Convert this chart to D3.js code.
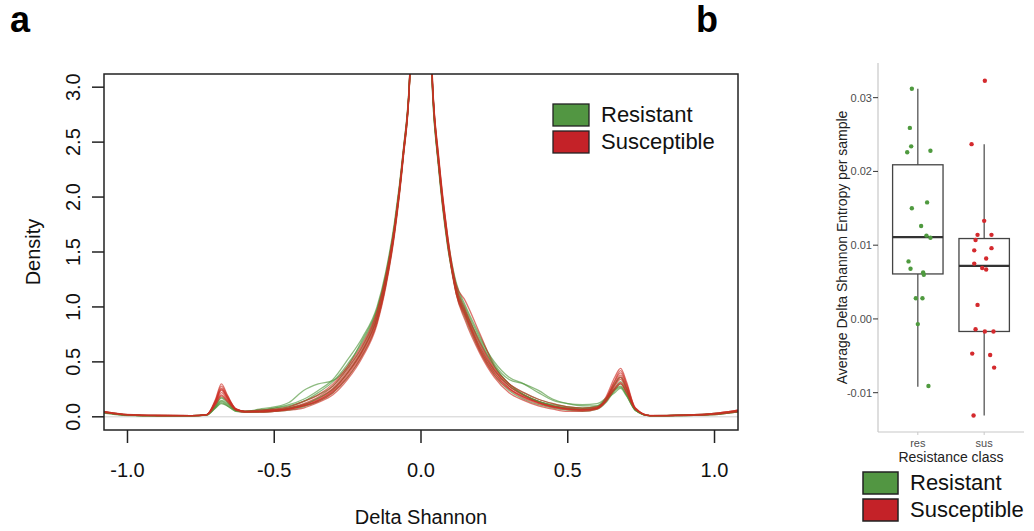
<!DOCTYPE html>
<html>
<head>
<meta charset="utf-8">
<script src="https://cdn.jsdelivr.net/npm/d3@7"></script>
<style>
  body { margin: 0; background: #fff; }
  text { font-family: "Liberation Sans", Arial, sans-serif; }
</style>
</head>
<body>
<div id="fig"></div>
<script>
// panel a: density of delta Shannon, one curve per sample
var deltaGrid = [-1.08, -1.0, -0.9, -0.78, -0.73,  -0.70, -0.68, -0.66, -0.63, -0.6,  -0.55, -0.5, -0.45, -0.4, -0.35,
                 -0.3, -0.25, -0.2, -0.15, -0.12,  -0.09, -0.06, -0.04, 0, 0.04,  0.06, 0.09, 0.12, 0.15, 0.2,
                 0.25, 0.3, 0.35, 0.4, 0.45,  0.5, 0.55, 0.6, 0.63, 0.66,  0.68, 0.70, 0.73, 0.78, 0.9,  1.0, 1.08]

var resistantCurves = [
  [0.035,0.015,0.01,0.01,0.02, 0.09,0.15,0.12,0.06,0.05, 0.07,0.09,0.13,0.24,0.3, 0.33,0.46,0.7,0.98,1.3, 1.75,2.4,3.0,7,2.9, 2.3,1.62,1.2,1.0,0.72, 0.5,0.36,0.3,0.22,0.15, 0.12,0.11,0.12,0.17,0.25, 0.28,0.2,0.06,0.01,0.015, 0.025,0.05],
  [0.04,0.015,0.01,0.01,0.015, 0.08,0.13,0.1,0.05,0.04, 0.04,0.05,0.06,0.09,0.14, 0.22,0.36,0.56,0.86,1.2, 1.68,2.38,3.0,7.5,3.0, 2.35,1.62,1.12,0.9,0.6, 0.38,0.24,0.16,0.11,0.08, 0.06,0.05,0.07,0.13,0.24, 0.3,0.22,0.06,0.01,0.012, 0.02,0.045],
  [0.045,0.02,0.012,0.01,0.02, 0.1,0.17,0.13,0.06,0.05, 0.06,0.07,0.09,0.14,0.22, 0.32,0.48,0.68,0.97,1.28, 1.74,2.42,3.02,7,2.98, 2.32,1.6,1.18,0.98,0.68, 0.46,0.3,0.22,0.16,0.12, 0.09,0.08,0.09,0.16,0.3, 0.36,0.26,0.07,0.01,0.015, 0.03,0.055],
  [0.04,0.015,0.01,0.01,0.02, 0.09,0.14,0.11,0.06,0.05, 0.06,0.08,0.1,0.14,0.2, 0.28,0.44,0.64,0.94,1.26, 1.72,2.4,3.0,7,2.96, 2.3,1.64,1.22,1.02,0.74, 0.48,0.34,0.3,0.24,0.16, 0.12,0.1,0.1,0.15,0.24, 0.27,0.2,0.06,0.01,0.015, 0.025,0.05],
  [0.035,0.012,0.008,0.008,0.015, 0.1,0.18,0.14,0.06,0.045, 0.05,0.06,0.08,0.11,0.17, 0.25,0.4,0.6,0.9,1.22, 1.7,2.38,2.98,7,2.95, 2.28,1.58,1.14,0.94,0.64, 0.42,0.28,0.2,0.14,0.1, 0.08,0.07,0.08,0.14,0.26, 0.32,0.24,0.07,0.01,0.012, 0.02,0.045],
  [0.04,0.016,0.01,0.01,0.018, 0.08,0.12,0.1,0.05,0.05, 0.06,0.08,0.11,0.16,0.24, 0.34,0.52,0.72,1.0,1.32, 1.78,2.44,3.04,7,2.92, 2.26,1.56,1.16,0.96,0.7, 0.46,0.3,0.2,0.14,0.11, 0.09,0.08,0.1,0.16,0.22, 0.26,0.19,0.06,0.01,0.014, 0.024,0.05]
]

var susceptibleCurves = [
  [0.045,0.02,0.012,0.01,0.02, 0.16,0.3,0.2,0.07,0.045, 0.045,0.05,0.07,0.1,0.15, 0.24,0.4,0.6,0.9,1.24, 1.7,2.4,3.0,7,2.96, 2.32,1.62,1.14,0.94,0.62, 0.4,0.26,0.18,0.13,0.09, 0.07,0.06,0.08,0.18,0.36, 0.44,0.32,0.08,0.01,0.015, 0.03,0.06],
  [0.04,0.018,0.012,0.01,0.02, 0.14,0.26,0.18,0.07,0.05, 0.05,0.06,0.08,0.11,0.17, 0.26,0.42,0.62,0.92,1.25, 1.72,2.4,3.0,7,2.95, 2.3,1.6,1.16,0.96,0.66, 0.43,0.28,0.2,0.14,0.1, 0.08,0.07,0.08,0.16,0.3, 0.38,0.27,0.07,0.01,0.015, 0.025,0.05],
  [0.04,0.015,0.01,0.01,0.018, 0.12,0.22,0.16,0.06,0.04, 0.04,0.05,0.06,0.08,0.13, 0.2,0.34,0.54,0.84,1.18, 1.66,2.36,2.98,7.5,3.02, 2.38,1.66,1.12,0.88,0.58, 0.36,0.22,0.15,0.1,0.07, 0.05,0.05,0.07,0.14,0.28, 0.34,0.25,0.07,0.01,0.012, 0.02,0.045],
  [0.05,0.02,0.012,0.01,0.02, 0.15,0.28,0.19,0.07,0.05, 0.05,0.06,0.08,0.12,0.18, 0.28,0.44,0.64,0.94,1.28, 1.74,2.42,3.02,7,2.98, 2.34,1.66,1.2,1.06,0.76, 0.46,0.3,0.2,0.14,0.1, 0.08,0.07,0.09,0.17,0.32, 0.4,0.29,0.08,0.01,0.015, 0.03,0.06],
  [0.045,0.018,0.011,0.01,0.018, 0.13,0.24,0.17,0.06,0.045, 0.05,0.055,0.07,0.1,0.15, 0.23,0.38,0.58,0.88,1.22, 1.7,2.38,2.99,7,2.94, 2.28,1.58,1.12,0.92,0.62, 0.4,0.26,0.18,0.13,0.09, 0.07,0.06,0.08,0.15,0.29, 0.36,0.26,0.07,0.01,0.014, 0.025,0.05],
  [0.04,0.018,0.012,0.01,0.02, 0.12,0.2,0.15,0.07,0.05, 0.06,0.07,0.09,0.14,0.2, 0.3,0.46,0.66,0.96,1.28, 1.74,2.42,3.02,7,2.97, 2.32,1.6,1.18,0.98,0.68, 0.44,0.3,0.22,0.16,0.12, 0.09,0.08,0.09,0.15,0.26, 0.31,0.23,0.07,0.01,0.015, 0.025,0.05],
  [0.05,0.022,0.013,0.011,0.02, 0.14,0.25,0.18,0.07,0.05, 0.05,0.06,0.07,0.1,0.14, 0.22,0.36,0.56,0.86,1.2, 1.68,2.38,2.98,7,3.0, 2.36,1.64,1.14,0.92,0.6, 0.38,0.25,0.17,0.12,0.085, 0.065,0.06,0.075,0.16,0.33, 0.42,0.3,0.08,0.012,0.016, 0.03,0.06],
  [0.04,0.016,0.01,0.01,0.018, 0.11,0.19,0.14,0.06,0.045, 0.05,0.06,0.075,0.11,0.16, 0.25,0.4,0.6,0.9,1.22, 1.7,2.4,3.0,7,2.96, 2.3,1.6,1.15,0.95,0.64, 0.42,0.28,0.19,0.13,0.095, 0.075,0.065,0.08,0.14,0.25, 0.3,0.22,0.07,0.01,0.014, 0.024,0.05]
]

var densityXTicks = [-1.0, -0.5, 0.0, 0.5, 1.0]
var densityYTicks = [0.0, 0.5, 1.0, 1.5, 2.0, 2.5, 3.0]
var legendLabels  = ['Resistant', 'Susceptible']

// panel b: average delta Shannon entropy per sample
var classes    = ['res', 'sus']
var resValues  = [0.0312, 0.0259, 0.0234, 0.0226, 0.0228, 0.0158, 0.0150, 0.0126, 0.0113, 0.0110, 0.0078, 0.0068, 0.0063, 0.0060, 0.0028, 0.0028, -0.0007, -0.0091]
var resJitter  = [-0.09, -0.12, -0.10, -0.16, 0.19, 0.14, -0.09, 0.05, 0.13, 0.19, -0.14, -0.11, 0.08, 0.09, -0.03, 0.07, 0.0, 0.16]
var susValues  = [0.0323, 0.0237, 0.0133, 0.0114, 0.0114, 0.0107, 0.0093, 0.0096, 0.0082, 0.0075, 0.0069, 0.0067, 0.0019, -0.0014, -0.0017, -0.0017, -0.0047, -0.0049, -0.0066, -0.0131]
var susJitter  = [0.01, -0.19, 0.0, -0.10, 0.11, -0.13, -0.15, 0.11, 0.03, -0.15, -0.03, 0.03, -0.10, -0.13, 0.01, 0.14, -0.18, 0.09, 0.15, -0.16]
// box stats: lower whisker, q1, median, q3, upper whisker
var resBox     = [-0.0092, 0.0061, 0.0111, 0.0209, 0.0312]
var susBox     = [-0.0131, -0.0017, 0.0072, 0.0109, 0.0237]
var boxYTicks  = [-0.01, 0.00, 0.01, 0.02, 0.03]

function buildFigure() {
  var svg = d3.select('#fig')
    .append('svg')
      .attr('width', 1034)
      .attr('height', 531)

  var green = '#529642', red = '#c42228'

  // ---------- panel a ----------
  var box = {left: 104, right: 738, top: 74, bottom: 430}
  var x = d3.scaleLinear().domain([-1.08, 1.08]).range([box.left, box.right])
  var y = d3.scaleLinear().domain([-0.12, 3.12]).range([box.bottom, box.top])

  svg.append('text').attr('x', 10).attr('y', 32)
    .attr('font-size', 36).attr('font-weight', 'bold').text('a')

  svg.append('clipPath').attr('id', 'clipA')
    .append('rect')
      .attr('x', box.left).attr('y', box.top)
      .attr('width', box.right - box.left).attr('height', box.bottom - box.top)

  // zero line
  svg.append('line')
    .attr('x1', box.left).attr('x2', box.right)
    .attr('y1', y(0)).attr('y2', y(0))
    .attr('stroke', '#cfcfcf').attr('stroke-width', 1)

  var line = d3.line()
    .x(function(d, i) { return x(deltaGrid[i]) })
    .y(function(d) { return y(d) })
    .curve(d3.curveMonotoneX)

  // interleave samples so neither class sits wholly on top
  var curves = []
  var n = Math.max(resistantCurves.length, susceptibleCurves.length)
  for (var i = 0; i < n; ++i) {
    if (resistantCurves[i]) curves.push({vals: resistantCurves[i], col: 'rgba(80,150,60,0.65)'})
    if (susceptibleCurves[i]) curves.push({vals: susceptibleCurves[i], col: 'rgba(205,45,35,0.65)'})
  }
  curves.forEach(function(c) {
    if (c.vals.length !== deltaGrid.length) throw new Error('curve length ' + c.vals.length)
  })

  svg.append('g').attr('clip-path', 'url(#clipA)')
    .selectAll('path')
    .data(curves)
    .enter().append('path')
      .attr('fill', 'none')
      .attr('stroke', function(d) { return d.col })
      .attr('stroke-width', 1.3)
      .attr('d', function(d) { return line(d.vals) })

  // frame
  svg.append('rect')
    .attr('x', box.left).attr('y', box.top)
    .attr('width', box.right - box.left).attr('height', box.bottom - box.top)
    .attr('fill', 'none').attr('stroke', '#222').attr('stroke-width', 1.5)

  // x axis
  var gx = svg.append('g')
  gx.selectAll('line').data(densityXTicks).enter().append('line')
    .attr('x1', function(d) { return x(d) }).attr('x2', function(d) { return x(d) })
    .attr('y1', box.bottom).attr('y2', box.bottom + 13)
    .attr('stroke', '#222').attr('stroke-width', 1.5)
  gx.selectAll('text').data(densityXTicks).enter().append('text')
    .attr('x', function(d) { return x(d) }).attr('y', 477)
    .attr('text-anchor', 'middle').attr('font-size', 20).attr('fill', '#111')
    .text(function(d) { return d.toFixed(1) })

  // y axis
  var gy = svg.append('g')
  gy.selectAll('line').data(densityYTicks).enter().append('line')
    .attr('x1', box.left - 12).attr('x2', box.left)
    .attr('y1', function(d) { return y(d) }).attr('y2', function(d) { return y(d) })
    .attr('stroke', '#222').attr('stroke-width', 1.5)
  gy.selectAll('text').data(densityYTicks).enter().append('text')
    .attr('transform', function(d) { return 'translate(80,' + y(d) + ') rotate(-90)' })
    .attr('text-anchor', 'middle').attr('font-size', 20).attr('fill', '#111')
    .text(function(d) { return d.toFixed(1) })

  svg.append('text')
    .attr('x', (box.left + box.right) / 2).attr('y', 524)
    .attr('text-anchor', 'middle').attr('font-size', 20).attr('fill', '#111')
    .text('Delta Shannon')
  svg.append('text')
    .attr('transform', 'translate(40,' + (box.top + box.bottom) / 2 + ') rotate(-90)')
    .attr('text-anchor', 'middle').attr('font-size', 20).attr('fill', '#111')
    .text('Density')

  // legend a
  var legA = svg.append('g')
  legA.selectAll('rect').data(legendLabels).enter().append('rect')
    .attr('x', 553).attr('y', function(d, i) { return 104 + i * 27 })
    .attr('width', 36).attr('height', 22)
    .attr('fill', function(d, i) { return i === 0 ? green : red })
    .attr('stroke', '#222').attr('stroke-width', 1.3)
  legA.selectAll('text').data(legendLabels).enter().append('text')
    .attr('x', 601).attr('y', function(d, i) { return 122 + i * 27 })
    .attr('font-size', 22).attr('fill', '#111')
    .text(function(d) { return d })

  // ---------- panel b ----------
  svg.append('text').attr('x', 696).attr('y', 32)
    .attr('font-size', 36).attr('font-weight', 'bold').text('b')

  var pb = {left: 878, right: 1024, top: 63, bottom: 432}
  var xb = d3.scalePoint().domain(classes).range([pb.left, pb.right]).padding(0.6)
  var step = xb.step()
  var yb = d3.scaleLinear().domain([-0.01533, 0.0347]).range([pb.bottom, pb.top])
  var boxW = 0.76 * step

  // axes lines
  svg.append('line').attr('x1', pb.left).attr('x2', pb.left).attr('y1', pb.top).attr('y2', pb.bottom)
    .attr('stroke', '#c8c8c8').attr('stroke-width', 1.2)
  svg.append('line').attr('x1', pb.left).attr('x2', pb.right).attr('y1', pb.bottom).attr('y2', pb.bottom)
    .attr('stroke', '#c8c8c8').attr('stroke-width', 1.2)

  var gby = svg.append('g')
  gby.selectAll('line').data(boxYTicks).enter().append('line')
    .attr('x1', pb.left - 5).attr('x2', pb.left)
    .attr('y1', function(d) { return yb(d) }).attr('y2', function(d) { return yb(d) })
    .attr('stroke', '#333').attr('stroke-width', 1)
  gby.selectAll('text').data(boxYTicks).enter().append('text')
    .attr('x', pb.left - 6).attr('y', function(d) { return yb(d) + 4 })
    .attr('text-anchor', 'end').attr('font-size', 11).attr('fill', '#4d4d4d')
    .text(function(d) { return d.toFixed(2) })

  var gbx = svg.append('g')
  gbx.selectAll('line').data(classes).enter().append('line')
    .attr('x1', function(d) { return xb(d) }).attr('x2', function(d) { return xb(d) })
    .attr('y1', pb.bottom).attr('y2', pb.bottom + 3)
    .attr('stroke', '#c8c8c8').attr('stroke-width', 1)
  gbx.selectAll('text').data(classes).enter().append('text')
    .attr('x', function(d) { return xb(d) }).attr('y', 447)
    .attr('text-anchor', 'middle').attr('font-size', 11).attr('fill', '#4d4d4d')
    .text(function(d) { return d })

  svg.append('text')
    .attr('x', (pb.left + pb.right) / 2).attr('y', 462)
    .attr('text-anchor', 'middle').attr('font-size', 14).attr('fill', '#222')
    .text('Resistance class')
  svg.append('text')
    .attr('transform', 'translate(847,' + (pb.top + pb.bottom) / 2 + ') rotate(-90)')
    .attr('text-anchor', 'middle').attr('font-size', 14).attr('fill', '#222')
    .text('Average Delta Shannon Entropy per sample')

  // boxes
  var boxes = [{cls: 'res', s: resBox}, {cls: 'sus', s: susBox}]
  boxes.forEach(function(b) {
    var cx = xb(b.cls)
    svg.append('line').attr('x1', cx).attr('x2', cx).attr('y1', yb(b.s[3])).attr('y2', yb(b.s[4]))
      .attr('stroke', '#555').attr('stroke-width', 1.3)
    svg.append('line').attr('x1', cx).attr('x2', cx).attr('y1', yb(b.s[0])).attr('y2', yb(b.s[1]))
      .attr('stroke', '#555').attr('stroke-width', 1.3)
    svg.append('rect')
      .attr('x', cx - boxW / 2).attr('y', yb(b.s[3]))
      .attr('width', boxW).attr('height', yb(b.s[1]) - yb(b.s[3]))
      .attr('fill', 'none').attr('stroke', '#444').attr('stroke-width', 1.3)
    svg.append('line').attr('x1', cx - boxW / 2).attr('x2', cx + boxW / 2)
      .attr('y1', yb(b.s[2])).attr('y2', yb(b.s[2]))
      .attr('stroke', '#333').attr('stroke-width', 2.2)
  })

  // points
  svg.append('g').selectAll('circle').data(resValues).enter().append('circle')
    .attr('cx', function(d, i) { return xb('res') + resJitter[i] * step })
    .attr('cy', function(d) { return yb(d) })
    .attr('r', 2.2).attr('fill', '#4f9a3f')
  svg.append('g').selectAll('circle').data(susValues).enter().append('circle')
    .attr('cx', function(d, i) { return xb('sus') + susJitter[i] * step })
    .attr('cy', function(d) { return yb(d) })
    .attr('r', 2.2).attr('fill', '#d42a2e')

  // legend b
  var legB = svg.append('g')
  legB.selectAll('rect').data(legendLabels).enter().append('rect')
    .attr('x', 863).attr('y', function(d, i) { return 472 + i * 27 })
    .attr('width', 35).attr('height', 22)
    .attr('fill', function(d, i) { return i === 0 ? green : red })
    .attr('stroke', '#222').attr('stroke-width', 1.5)
  legB.selectAll('text').data(legendLabels).enter().append('text')
    .attr('x', 910).attr('y', function(d, i) { return 490 + i * 27 })
    .attr('font-size', 22).attr('fill', '#111')
    .text(function(d) { return d })
}

buildFigure()
</script>
</body>
</html>
